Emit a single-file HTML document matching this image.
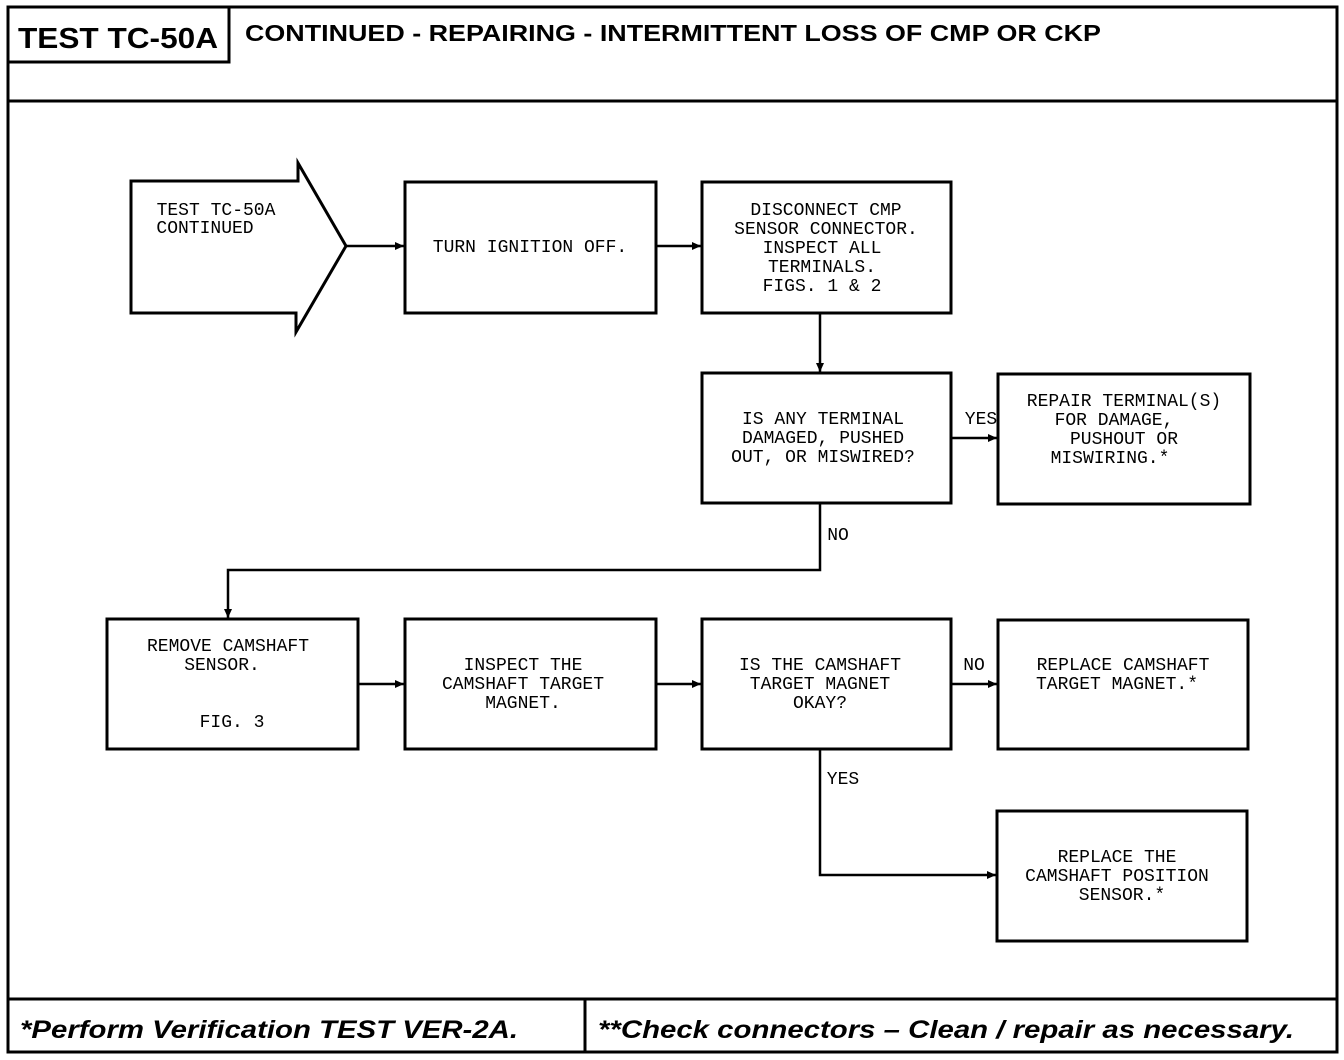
<!DOCTYPE html>
<html><head><meta charset="utf-8"><style>html,body{margin:0;padding:0;background:#fff}svg{display:block}</style></head>
<body>
<svg width="1344" height="1060" viewBox="0 0 1344 1060" xmlns="http://www.w3.org/2000/svg">
<defs><marker id="a" markerWidth="10" markerHeight="10" refX="9" refY="5" orient="auto" markerUnits="userSpaceOnUse"><path d="M0,1 L9,5 L0,9 Z" fill="#000"/></marker></defs>
<g fill="none" stroke="#000" stroke-width="3">
<rect x="8" y="7" width="1329" height="1045"/>
<polyline points="8,62 229,62 229,7"/>
<line x1="8" y1="101" x2="1337" y2="101"/>
<line x1="8" y1="999" x2="1337" y2="999"/>
<line x1="585" y1="999" x2="585" y2="1052"/>
<polygon points="131,181 298,181 298,163 346,246 296,332 296,313 131,313"/>
<rect x="405" y="182" width="251" height="131"/>
<rect x="702" y="182" width="249" height="131"/>
<rect x="702" y="373" width="249" height="130"/>
<rect x="998" y="374" width="252" height="130"/>
<rect x="107" y="619" width="251" height="130"/>
<rect x="405" y="619" width="251" height="130"/>
<rect x="702" y="619" width="249" height="130"/>
<rect x="998" y="620" width="250" height="129"/>
<rect x="997" y="811" width="250" height="130"/>
</g>
<g fill="none" stroke="#000" stroke-width="2.5" marker-end="url(#a)">
<line x1="346" y1="246" x2="404" y2="246"/>
<line x1="656" y1="246" x2="701" y2="246"/>
<line x1="820" y1="313" x2="820" y2="372"/>
<line x1="951" y1="438" x2="997" y2="438"/>
<polyline points="820,503 820,570 228,570 228,618"/>
<line x1="358" y1="684" x2="404" y2="684"/>
<line x1="656" y1="684" x2="701" y2="684"/>
<line x1="951" y1="684" x2="997" y2="684"/>
<polyline points="820,749 820,875 996,875"/>
</g>
<g font-family="Liberation Sans, sans-serif" font-weight="bold" fill="#000">
<text x="18" y="48" font-size="29" textLength="200" lengthAdjust="spacingAndGlyphs">TEST TC-50A</text>
<text x="245" y="41" font-size="23" textLength="856" lengthAdjust="spacingAndGlyphs">CONTINUED -  REPAIRING - INTERMITTENT LOSS OF CMP OR CKP</text>
<text x="20" y="1038" font-size="25" font-style="italic" textLength="498" lengthAdjust="spacingAndGlyphs">*Perform Verification TEST VER-2A.</text>
<text x="598" y="1038" font-size="25" font-style="italic" textLength="696" lengthAdjust="spacingAndGlyphs">**Check connectors – Clean / repair as necessary.</text>
</g>
<g font-family="Liberation Mono, monospace" font-size="18" fill="#000" text-anchor="middle" transform="scale(1,1)">
<text x="216" y="215">TEST TC-50A</text>
<text x="205" y="233">CONTINUED</text>
<text x="530" y="252">TURN IGNITION OFF.</text>
<text x="826" y="215">DISCONNECT CMP</text>
<text x="826" y="234">SENSOR CONNECTOR.</text>
<text x="822" y="253">INSPECT ALL</text>
<text x="822" y="272">TERMINALS.</text>
<text x="822" y="291">FIGS. 1 &amp; 2</text>
<text x="823" y="424">IS ANY TERMINAL</text>
<text x="823" y="443">DAMAGED, PUSHED</text>
<text x="823" y="462">OUT, OR MISWIRED?</text>
<text x="1124" y="406">REPAIR TERMINAL(S)</text>
<text x="1114" y="425">FOR DAMAGE,</text>
<text x="1124" y="444">PUSHOUT OR</text>
<text x="1110" y="463">MISWIRING.*</text>
<text x="981" y="424">YES</text>
<text x="838" y="540">NO</text>
<text x="228" y="651">REMOVE CAMSHAFT</text>
<text x="222" y="670">SENSOR.</text>
<text x="232" y="727">FIG. 3</text>
<text x="523" y="670">INSPECT THE</text>
<text x="523" y="689">CAMSHAFT TARGET</text>
<text x="523" y="708">MAGNET.</text>
<text x="820" y="670">IS THE CAMSHAFT</text>
<text x="820" y="689">TARGET MAGNET</text>
<text x="820" y="708">OKAY?</text>
<text x="974" y="670">NO</text>
<text x="1123" y="670">REPLACE CAMSHAFT</text>
<text x="1117" y="689">TARGET MAGNET.*</text>
<text x="843" y="784">YES</text>
<text x="1117" y="862">REPLACE THE</text>
<text x="1117" y="881">CAMSHAFT POSITION</text>
<text x="1122" y="900">SENSOR.*</text>
</g>
</svg>
</body></html>
